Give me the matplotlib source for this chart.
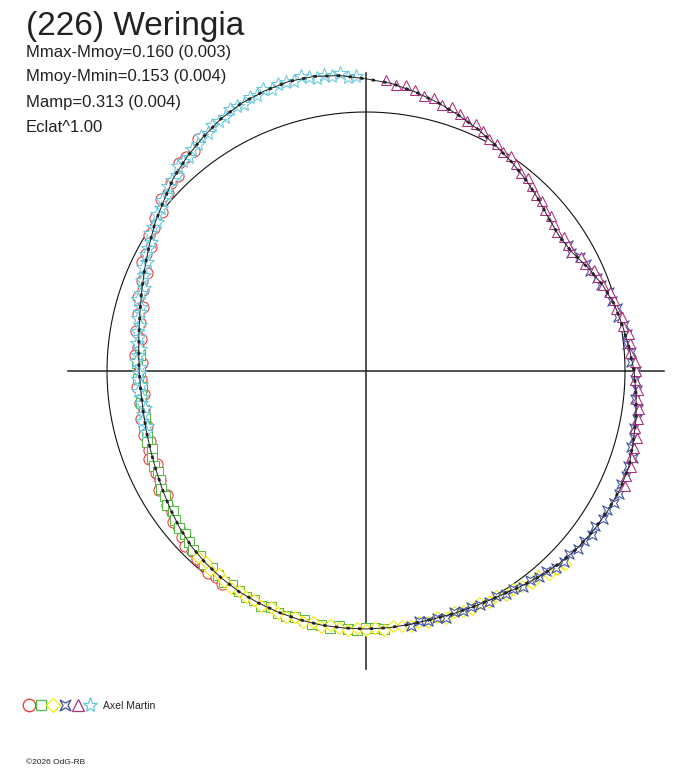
import numpy as np
import matplotlib.pyplot as plt
from matplotlib.path import Path

plt.rcParams['font.family'] = ['Liberation Sans', 'DejaVu Sans']

#====================== DATA (angle in degrees, radius = relative flux) ======

title = "(226) Weringia"
info_lines = ["Mmax-Mmoy=0.160 (0.003)",
              "Mmoy-Mmin=0.153 (0.004)",
              "Mamp=0.313 (0.004)",
              "Eclat^1.00"]
observer = "Axel Martin"
credit = "\u00a92026 OdG-RB"

# mean fitted curve
fit_ang = [0, 5, 10, 15, 20, 25, 30, 35, 40, 45, 50, 55, 60, 65, 70, 75, 80, 85,
           90, 95, 100, 105, 110, 115, 120, 125, 130, 135, 140, 145, 150, 155,
           160, 165, 170, 175, 180, 185, 190, 195, 200, 205, 210, 215, 220, 225,
           230, 235, 240, 245, 250, 255, 260, 265, 270, 275, 280, 285, 290, 295,
           300, 305, 310, 315, 320, 325, 330, 335, 340, 345, 350, 355]
fit_r = [1.035, 1.020, 1.006, 0.993, 0.972, 0.945, 0.918, 0.910, 0.920, 0.940,
         0.962, 0.983, 1.004, 1.028, 1.050, 1.073, 1.094, 1.115, 1.128, 1.145,
         1.155, 1.157, 1.150, 1.140, 1.123, 1.100, 1.077, 1.052, 1.020, 0.995,
         0.967, 0.942, 0.921, 0.903, 0.890, 0.881, 0.876, 0.873, 0.874, 0.879,
         0.886, 0.896, 0.909, 0.924, 0.940, 0.955, 0.966, 0.975, 0.983, 0.987,
         0.991, 0.994, 0.996, 0.996, 0.996, 0.995, 0.993, 0.992, 0.996, 1.001,
         1.008, 1.022, 1.038, 1.053, 1.065, 1.073, 1.078, 1.082, 1.080, 1.068,
         1.059, 1.047]

red_ang = [126, 128, 130, 132, 134, 136, 138, 140, 142, 144, 146, 148, 150, 152,
           154, 156, 158, 160, 162, 164, 166, 168, 170, 172, 174, 176, 178, 180,
           182, 184, 186, 188, 190, 192, 194, 196, 198, 200, 202, 204, 206, 208,
           210, 212, 214, 216, 218, 220, 222, 224, 226, 228, 230, 232, 234, 236]
red_r = [1.105, 1.078, 1.081, 1.081, 1.045, 1.047, 1.028, 1.032, 1.000, 1.007,
         0.986, 0.988, 0.959, 0.961, 0.961, 0.926, 0.931, 0.916, 0.926, 0.897,
         0.907, 0.892, 0.900, 0.878, 0.887, 0.894, 0.866, 0.878, 0.870, 0.886,
         0.863, 0.881, 0.871, 0.888, 0.870, 0.890, 0.875, 0.890, 0.904, 0.882,
         0.900, 0.899, 0.921, 0.905, 0.928, 0.924, 0.944, 0.945, 0.958, 0.972,
         0.965, 0.975, 0.978, 0.990, 0.985, 0.992]

green_ang = [176, 178, 180, 182, 184, 186, 188, 190, 192, 194, 196, 198, 200, 202,
             204, 206, 208, 210, 212, 214, 216, 218, 220, 222, 224, 226, 228, 230,
             232, 234, 236, 238, 240, 242, 244, 246, 248, 250, 252, 254, 256, 258,
             260, 262, 264, 266, 268, 270, 272, 274]
green_r = [0.876, 0.883, 0.874, 0.882, 0.868, 0.875, 0.878, 0.869, 0.872, 0.883,
           0.878, 0.890, 0.880, 0.892, 0.898, 0.893, 0.900, 0.914, 0.913, 0.928,
           0.921, 0.936, 0.944, 0.941, 0.948, 0.962, 0.960, 0.973, 0.964, 0.975,
           0.981, 0.975, 0.979, 0.990, 0.984, 0.995, 0.983, 0.993, 0.996, 0.988,
           0.990, 1.000, 0.994, 1.003, 0.990, 0.998, 1.000, 0.991, 0.992, 1.000]

yellow_ang = [228, 230, 232, 234, 236, 238, 240, 242, 244, 246, 248, 250, 252, 254,
              256, 258, 260, 262, 264, 266, 268, 270, 272, 274, 276, 278, 280, 282,
              284, 286, 288, 290, 292, 294, 296, 298, 300, 302, 304, 306, 308, 310,
              312, 314, 316]
yellow_r = [0.967, 0.963, 0.977, 0.968, 0.979, 0.986, 0.979, 0.990, 0.983, 0.995,
            0.984, 0.993, 0.998, 0.989, 0.999, 0.992, 1.003, 0.991, 0.998, 1.002,
            0.992, 1.001, 0.993, 1.002, 0.990, 0.996, 0.999, 0.989, 0.997, 0.990,
            1.001, 0.991, 1.000, 1.006, 0.998, 1.010, 1.005, 1.021, 1.014, 1.027,
            1.038, 1.034, 1.055, 1.062, 1.070]

blue_ang = [280, 282, 284, 286, 288, 290, 292, 294, 296, 298, 300, 302, 304, 306,
            308, 310, 312, 314, 316, 318, 320, 322, 324, 326, 328, 330, 332, 334,
            336, 338, 340, 342, 344, 346, 348, 350, 352, 354, 356, 358, 0, 2, 4,
            6, 8, 10, 12, 14, 16, 18, 20, 22, 24, 26, 28, 30, 32]
blue_r = [0.999, 0.988, 0.995, 0.991, 1.002, 0.990, 0.999, 0.996, 1.007, 1.011,
          1.003, 1.017, 1.017, 1.033, 1.026, 1.039, 1.040, 1.055, 1.061, 1.055,
          1.068, 1.066, 1.079, 1.068, 1.077, 1.074, 1.085, 1.087, 1.077, 1.084,
          1.078, 1.083, 1.064, 1.067, 1.059, 1.064, 1.060, 1.044, 1.047, 1.038,
          1.043, 1.023, 1.024, 1.013, 1.017, 1.012, 0.996, 0.999, 0.987, 0.988,
          0.966, 0.962, 0.946, 0.945, 0.935, 0.913, 0.919]

purple_ang = [336, 338, 340, 342, 344, 346, 348, 350, 352, 354, 356, 358, 0, 2, 4,
              6, 8, 10, 12, 14, 16, 18, 20, 22, 24, 26, 28, 30, 32, 34, 36, 38, 40,
              42, 44, 46, 48, 50, 52, 54, 56, 58, 60, 62, 64, 66, 68, 70, 72, 74,
              76, 78, 80, 82, 84, 86]
purple_r = [1.094, 1.083, 1.089, 1.074, 1.076, 1.077, 1.063, 1.066, 1.066, 1.051,
            1.053, 1.039, 1.041, 1.040, 1.023, 1.024, 1.024, 1.008, 1.010, 0.995,
            0.995, 0.991, 0.972, 0.968, 0.962, 0.942, 0.938, 0.917, 0.921, 0.923,
            0.911, 0.922, 0.932, 0.930, 0.945, 0.943, 0.959, 0.973, 0.970, 0.986,
            0.999, 0.998, 1.013, 1.013, 1.029, 1.043, 1.041, 1.057, 1.071, 1.070,
            1.086, 1.085, 1.100, 1.114, 1.111, 1.125]

cyan_ang = [92, 93.5, 95, 96.5, 98, 99.5, 101, 102.5, 104, 105.5, 107, 108.5, 110,
            111.5, 113, 114.5, 116, 117.5, 119, 120.5, 122, 123.5, 125, 126.5,
            128, 129.5, 131, 132.5, 134, 135.5, 137, 138.5, 140, 141.5, 143,
            144.5, 146, 147.5, 149, 150.5, 152, 153.5, 155, 156.5, 158, 159.5,
            161, 162.5, 164, 165.5, 167, 168.5, 170, 171.5, 173, 174.5, 176,
            177.5, 179, 180.5, 182, 183.5, 185, 186.5, 188, 189.5, 191, 192.5,
            194, 195.5]
cyan_r = [1.141, 1.136, 1.154, 1.146, 1.155, 1.147, 1.158, 1.166, 1.152, 1.158,
          1.160, 1.148, 1.159, 1.145, 1.148, 1.134, 1.140, 1.141, 1.121, 1.122,
          1.120, 1.103, 1.109, 1.091, 1.090, 1.072, 1.075, 1.075, 1.052, 1.050,
          1.045, 1.026, 1.029, 1.011, 1.009, 0.991, 0.992, 0.991, 0.968, 0.966,
          0.963, 0.946, 0.951, 0.934, 0.933, 0.916, 0.920, 0.922, 0.902, 0.903,
          0.904, 0.890, 0.899, 0.885, 0.889, 0.875, 0.883, 0.888, 0.872, 0.877,
          0.881, 0.870, 0.882, 0.871, 0.878, 0.867, 0.878, 0.886, 0.873, 0.880]

#====================== STYLE =================================================

# 4-pointed concave star (blue session)
star4 = Path([(1, 1), (0, 0.45), (-1, 1), (-0.45, 0), (-1, -1), (0, -0.45),
              (1, -1), (0.45, 0), (1, 1)],
             [Path.MOVETO] + [Path.LINETO] * 7 + [Path.CLOSEPOLY])

sessions = [
    (red_ang, red_r, 'o', '#ee3333', 8.0),
    (green_ang, green_r, 's', '#55bb44', 6.8),
    (yellow_ang, yellow_r, 'D', '#f2ea00', 6.0),
    (blue_ang, blue_r, star4, '#3a4ea0', 6.8),
    (purple_ang, purple_r, '^', '#b02c7c', 7.6),
    (cyan_ang, cyan_r, '*', '#66c8dc', 10.0),
]


def to_xy(ang, r):
    a = np.radians(np.asarray(ang, dtype=float))
    r = np.asarray(r, dtype=float)
    return r * np.cos(a), r * np.sin(a)


#====================== PLOT ==================================================

W, H = 688, 768
cx, cy, scale = 366, 371, 259.0

fig = plt.figure(figsize=(W / 100, H / 100), dpi=100)
ax = fig.add_axes([0, 0, 1, 1])
ax.set_xlim(-cx / scale, (W - cx) / scale)
ax.set_ylim(-(H - cy) / scale, cy / scale)
ax.set_aspect('equal')
ax.axis('off')

# reference circle (mean brightness)
t = np.linspace(0, 2 * np.pi, 400)
ax.plot(np.cos(t), np.sin(t), color='#111111', lw=0.8, zorder=1)

# axes cross
L = 1.15
ax.plot([-L, L], [0, 0], color='#222222', lw=1.1, zorder=1)
ax.plot([0, 0], [-L, L], color='#222222', lw=1.1, zorder=1)

for i, (ang, r, mk, col, ms) in enumerate(sessions):
    x, y = to_xy(ang, r)
    ax.plot(x, y, ls='none', marker=mk, ms=ms, mfc='white', mec=col,
            mew=0.75, zorder=2 + i)

# mean curve
fx, fy = to_xy(fit_ang + fit_ang[:1], fit_r + fit_r[:1])
ax.plot(fx, fy, color='#222222', lw=0.7, zorder=10)
ax.plot(fx, fy, color='#222222', lw=2.0, ls=(0, (1.2, 3.0)), zorder=10)

# texts
fig.text(26 / W, 1 - 11 / H, title, fontsize=24, color='#222222',
         ha='left', va='top')
for k, line in enumerate(info_lines):
    fig.text(26 / W, 1 - (52 + 25 * k) / H, line, fontsize=12,
             color='#222222', ha='left', va='center')

# legend row
leg_x = [29, 41, 53, 65, 78, 90]
for (ang, r, mk, col, ms), lx in zip(sessions, leg_x):
    ax.plot((lx - cx) / scale, -(705 - cy) / scale, ls='none', marker=mk,
            ms=ms + 1.0, mfc='white', mec=col, mew=0.9, clip_on=False)
fig.text(103 / W, 1 - 706 / H, observer, fontsize=7.5, color='#222222',
         ha='left', va='center')
fig.text(26 / W, 1 - 763 / H, credit, fontsize=6, color='#222222',
         ha='left', va='center')

fig.savefig('out.png', dpi=100)
